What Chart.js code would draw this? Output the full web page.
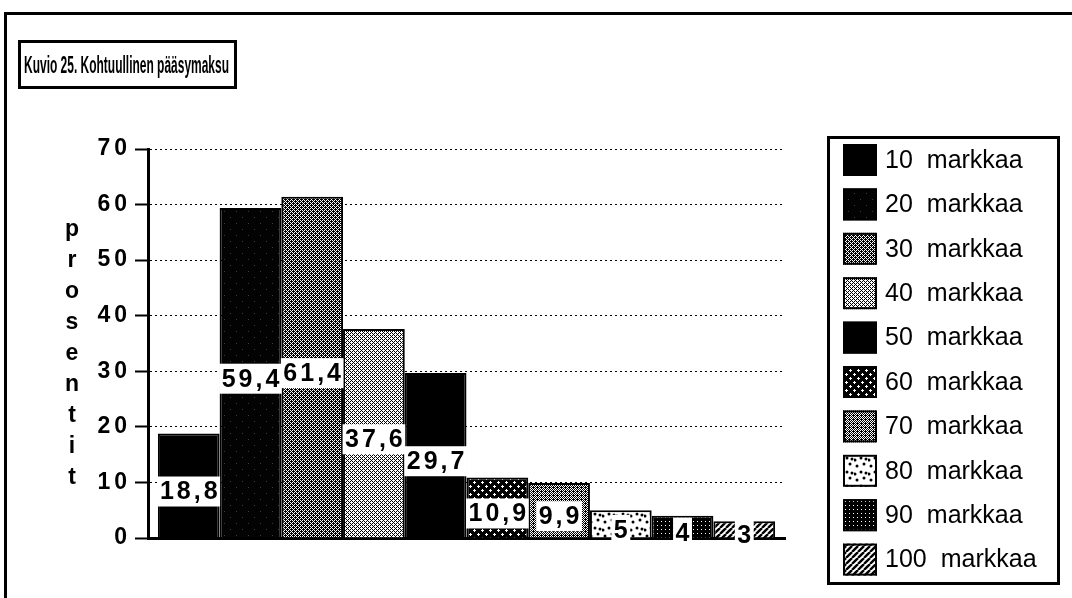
<!DOCTYPE html>
<html>
<head>
<meta charset="utf-8">
<script src="https://cdn.jsdelivr.net/npm/chart.js@4.4.1/dist/chart.umd.min.js"></script>
<style>
  html, body { margin: 0; padding: 0; background: #fff; }
  #wrap { position: relative; width: 1072px; height: 598px; }
</style>
</head>
<body>
<div id="wrap"><canvas id="fee-chart" width="1072" height="598"></canvas></div>
<script>
const chartTitle = "Kuvio 25. Kohtuullinen pääsymaksu";
const yTitle = "prosentit";
const seriesLabels = ["10 markkaa", "20 markkaa", "30 markkaa", "40 markkaa", "50 markkaa",
  "60 markkaa", "70 markkaa", "80 markkaa", "90 markkaa", "100 markkaa"];
const seriesValues = [18.8, 59.4, 61.4, 37.6, 29.7, 10.9, 9.9, 5, 4, 3];
const yMin = 0, yMax = 70, yStep = 10;

const canvas = document.getElementById("fee-chart");
const ctx = canvas.getContext("2d");

// small bitmap tiles standing in for the old print fill patterns
function tile(w, h, paint) {
  const c = document.createElement("canvas");
  c.width = w; c.height = h;
  const g = c.getContext("2d");
  paint(g, w, h);
  return ctx.createPattern(c, "repeat");
}
const bayer = [[0, 8, 2, 10], [12, 4, 14, 6], [3, 11, 1, 9], [15, 7, 13, 5]];
function dither(n) {
  return tile(4, 4, (g) => {
    g.fillStyle = "#000"; g.fillRect(0, 0, 4, 4);
    g.fillStyle = "#fff";
    for (let y = 0; y < 4; y++)
      for (let x = 0; x < 4; x++)
        if (bayer[y][x] < n) g.fillRect(x, y, 1, 1);
  });
}

const fills = [
  "#000",
  tile(12, 12, (g) => {
    g.fillStyle = "#030303"; g.fillRect(0, 0, 12, 12);
    g.fillStyle = "#3c3c3c"; g.fillRect(2, 1, 1, 1); g.fillRect(8, 7, 1, 1);
  }),
  dither(6),
  dither(10),
  "#000",
  tile(8, 8, (g) => {
    g.fillStyle = "#000"; g.fillRect(0, 0, 8, 8);
    g.fillStyle = "#fff";
    [[2, 2], [6, 6]].forEach(([x, y]) => {
      g.fillRect(x - 1, y, 3, 1); g.fillRect(x, y - 1, 1, 3);
    });
  }),
  dither(7),
  tile(14, 14, (g) => {
    g.fillStyle = "#fff"; g.fillRect(0, 0, 14, 14);
    g.fillStyle = "#000";
    [[3, 4], [10, 2], [7, 10], [12, 11], [1, 12]].forEach(([x, y]) => {
      g.beginPath(); g.arc(x, y, 1.5, 0, Math.PI * 2); g.fill();
    });
  }),
  tile(4, 4, (g) => {
    g.fillStyle = "#000"; g.fillRect(0, 0, 4, 4);
    g.fillStyle = "#fff"; g.fillRect(1, 1, 1, 1);
  }),
  tile(6, 6, (g) => {
    g.fillStyle = "#fff"; g.fillRect(0, 0, 6, 6);
    g.strokeStyle = "#000"; g.lineWidth = 2.4;
    [-6, 0, 6].forEach((k) => {
      g.beginPath(); g.moveTo(k, 6); g.lineTo(k + 6, 0); g.stroke();
    });
  })
];

// frame, title box and the stacked y title
const decor = {
  id: "decor",
  beforeDraw(chart) {
    const c = chart.ctx;
    c.letterSpacing = "0px";
    c.save();
    c.fillStyle = "#000";
    c.fillRect(4, 12, 1068, 3);
    c.fillRect(4, 12, 3, 586);
    c.lineWidth = 3;
    c.strokeRect(19.5, 41.5, 216, 46);
    c.font = "bold 24px 'Liberation Sans', Arial, sans-serif";
    c.textBaseline = "middle";
    const tw = c.measureText(chartTitle).width;
    c.translate(24, 66);
    c.scale(Math.min(1, 205 / tw), 1);
    c.fillText(chartTitle, 0, 0);
    c.restore();

    c.save();
    c.fillStyle = "#000";
    c.font = "bold 23px 'Liberation Sans', Arial, sans-serif";
    c.textAlign = "center";
    c.textBaseline = "alphabetic";
    [...yTitle].forEach((ch, i) => c.fillText(ch, 72, 236 + i * 31));
    c.restore();
    // the tick labels of this old chart are letter-spaced
    c.letterSpacing = "4px";
  },
  beforeDatasetsDraw(chart) {
    chart.ctx.letterSpacing = "0px";
  }
};

const valueLabels = {
  id: "valueLabels",
  afterDatasetsDraw(chart) {
    const c = chart.ctx;
    c.save();
    c.font = "bold 25px 'Liberation Sans', Arial, sans-serif";
    c.letterSpacing = "3px";
    c.textAlign = "left";
    c.textBaseline = "middle";
    chart.data.datasets.forEach((ds, i) => {
      const bar = chart.getDatasetMeta(i).data[0];
      const text = String(ds.data[0]).replace(".", ",");
      const w = c.measureText(text).width;
      const cy = (bar.y + bar.base) / 2 + 6;
      c.fillStyle = "#fff";
      c.fillRect(bar.x - w / 2 - 1, cy - 15, w + 2, 30);
      c.fillStyle = "#000";
      c.fillText(text, bar.x - w / 2 + 1.5, cy + 1);
    });
    c.restore();
  }
};

const legendBox = {
  id: "legendBox",
  afterDraw(chart) {
    const c = chart.ctx;
    c.save();
    c.letterSpacing = "0px";
    c.lineWidth = 3;
    c.strokeStyle = "#000";
    c.strokeRect(828.5, 137.5, 230, 446);
    c.font = "25px 'Liberation Sans', Arial, sans-serif";
    c.textBaseline = "middle";
    chart.data.datasets.forEach((ds, i) => {
      const cy = 160 + i * 44.4;
      c.fillStyle = ds.backgroundColor;
      c.fillRect(843, cy - 16, 34, 32);
      c.lineWidth = 2;
      c.strokeRect(844, cy - 15, 32, 30);
      c.fillStyle = "#000";
      const [num, word] = ds.label.split(" ");
      c.fillText(num, 885, cy + 1);
      c.fillText(word, 885 + c.measureText(num).width + 14, cy + 1);
    });
    c.restore();
  }
};

new Chart(ctx, {
  type: "bar",
  data: {
    labels: [""],
    datasets: seriesLabels.map((label, i) => ({
      label,
      data: [seriesValues[i]],
      backgroundColor: fills[i],
      borderColor: "#000",
      borderWidth: 2,
      categoryPercentage: 0.969,
      barPercentage: 1
    }))
  },
  options: {
    responsive: false,
    animation: false,
    devicePixelRatio: 1,
    layout: { padding: { left: 0, right: 287, top: 149, bottom: 60 } },
    plugins: { legend: { display: false }, tooltip: { enabled: false } },
    scales: {
      x: {
        ticks: { display: false },
        grid: { display: false, drawTicks: false },
        border: { display: true, color: "#000", width: 3 },
        afterFit: (s) => { s.height = 0; }
      },
      y: {
        min: yMin,
        max: yMax,
        ticks: {
          stepSize: yStep,
          color: "#000",
          padding: 4,
          font: { family: "'Liberation Sans', Arial, sans-serif", size: 23, weight: "bold" }
        },
        grid: { color: "#000", lineWidth: 1, tickLength: 13, tickColor: "#000", tickWidth: 2 },
        border: { display: true, color: "#000", width: 3, dash: [2, 3] },
        afterFit: (s) => { s.width = 148; }
      }
    }
  },
  plugins: [decor, valueLabels, legendBox]
});
</script>
</body>
</html>
